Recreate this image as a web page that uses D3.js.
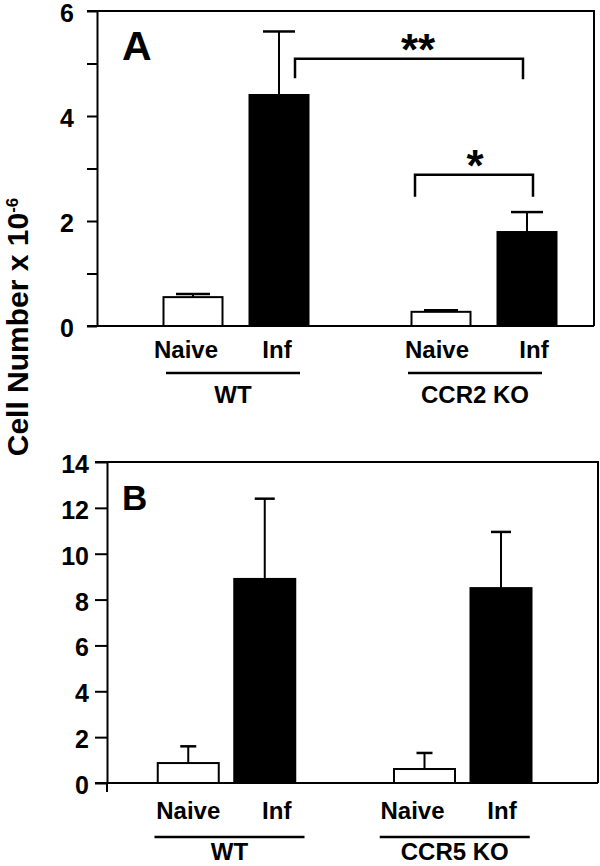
<!DOCTYPE html>
<html>
<head>
<meta charset="utf-8">
<script src="https://cdn.jsdelivr.net/npm/d3@7/dist/d3.min.js"></script>
<style>
  html, body { margin: 0; padding: 0; background: #fff; }
  svg { display: block; }
  text { font-family: "Liberation Sans", Arial, Helvetica, sans-serif; font-weight: bold; fill: #000; }
</style>
</head>
<body>
<svg id="chart" width="600" height="866"></svg>
<script>
// ---------- data ----------
const conditions = ["Naive", "Inf"];

const groupsA = ["WT", "CCR2 KO"];
const meansA = [[0.55, 4.40], [0.27, 1.79]];
const errorsA = [[0.06, 1.21], [0.03, 0.38]];
const ticksA = [0, 1, 2, 3, 4, 5, 6];
const tickLabelsA = ["0", "", "2", "", "4", "", "6"];

const groupsB = ["WT", "CCR5 KO"];
const meansB = [[0.87, 8.9], [0.61, 8.5]];
const errorsB = [[0.73, 3.5], [0.70, 2.45]];
const ticksB = [0, 2, 4, 6, 8, 10, 12, 14];
const tickLabelsB = ["0", "2", "4", "6", "8", "10", "12", "14"];

// significance brackets (panel A): from/to bars, bar level, leg ends
const bracketLabels = ["**", "*"];
const bracketFrom = [["WT", "Inf"], ["CCR2 KO", "Naive"]];
const bracketTo = [["CCR2 KO", "Inf"], ["CCR2 KO", "Inf"]];
const bracketLevel = [5.09, 2.88];
const bracketLegLeft = [4.72, 2.46];
const bracketLegRight = [4.70, 2.46];

const yTitle = "Cell Number x 10";
const yTitleSup = "-6";

// ---------- drawing ----------
const svg = d3.select("#chart");

function panel(cfg) {
  const g = svg.append("g");
  const y = d3.scaleLinear().domain(cfg.domain).range([cfg.y0, cfg.y1]);
  const gx = d3.scalePoint().domain(cfg.groups).range(cfg.groupRange);
  const ix = d3.scalePoint().domain(conditions).range([-cfg.inner, cfg.inner]);
  const cx = (grp, cond) => gx(grp) + ix(cond);

  const top = y(cfg.domain[1]), base = y(0);
  g.append("line").attr("x1", cfg.axisX - cfg.tick).attr("x2", cfg.right)
    .attr("y1", top).attr("y2", top).attr("stroke", "#000").attr("stroke-width", 2);
  g.append("line").attr("x1", cfg.right).attr("x2", cfg.right)
    .attr("y1", top - 1).attr("y2", base).attr("stroke", "#000").attr("stroke-width", 2);
  g.append("line").attr("x1", cfg.axisX - cfg.tick).attr("x2", cfg.right)
    .attr("y1", base).attr("y2", base).attr("stroke", "#000").attr("stroke-width", 2);

  const axis = d3.axisLeft(y).tickValues(cfg.ticks)
    .tickFormat((d, i) => cfg.tickLabels[i])
    .tickSize(cfg.tick).tickSizeOuter(0).tickPadding(cfg.pad);
  const ag = g.append("g").attr("transform", `translate(${cfg.axisX},0)`).call(axis);
  ag.select(".domain").attr("stroke-width", 2);
  ag.selectAll(".tick line").attr("stroke-width", 2);
  ag.selectAll(".tick text").attr("font-size", cfg.tickFont).attr("font-weight", "bold")
    .attr("font-family", '"Liberation Sans", Arial, sans-serif').attr("dy", "0.42em");
  if (cfg.extend) {
    g.append("line").attr("x1", cfg.axisX).attr("x2", cfg.axisX)
      .attr("y1", base).attr("y2", base + cfg.extend).attr("stroke", "#000").attr("stroke-width", 2);
  }

  cfg.groups.forEach((grp, gi) => {
    conditions.forEach((cond, ci) => {
      const m = cfg.means[gi][ci], e = cfg.errors[gi][ci];
      const c = cx(grp, cond);
      const filled = cond === "Inf";
      g.append("line").attr("x1", c).attr("x2", c).attr("y1", y(m)).attr("y2", y(m + e))
        .attr("stroke", "#000").attr("stroke-width", 2);
      g.append("line").attr("x1", c - cfg.cap[ci] / 2).attr("x2", c + cfg.cap[ci] / 2)
        .attr("y1", y(m + e)).attr("y2", y(m + e)).attr("stroke", "#000").attr("stroke-width", 2.5);
      g.append("rect").attr("x", c - cfg.barW / 2).attr("width", cfg.barW)
        .attr("y", y(m)).attr("height", base - y(m))
        .attr("fill", filled ? "#000" : "#fff").attr("stroke", "#000").attr("stroke-width", 2);
      g.append("text").attr("x", c + cfg.labelShift[gi][ci]).attr("y", cfg.labelY)
        .attr("text-anchor", "middle").attr("font-size", cfg.labelFont).text(cond);
    });
    const gc = gx(grp) + cfg.lineShift[gi];
    g.append("line").attr("x1", gc - cfg.lineHalf).attr("x2", gc + cfg.lineHalf)
      .attr("y1", cfg.lineY).attr("y2", cfg.lineY).attr("stroke", "#000").attr("stroke-width", 2.5);
    g.append("text").attr("x", gc).attr("y", cfg.groupY).attr("text-anchor", "middle")
      .attr("font-size", cfg.labelFont).text(grp);
  });

  g.append("text").attr("x", cfg.letterX).attr("y", cfg.letterY)
    .attr("font-size", cfg.letterFont).text(cfg.letter);

  return { g, y, cx };
}

const A = panel({
  domain: [0, 6], y0: 326, y1: 11, axisX: 97, right: 594, tick: 10, pad: 13,
  ticks: ticksA, tickLabels: tickLabelsA, tickFont: 25,
  groups: groupsA, groupRange: [236, 484], inner: 43, barW: 59,
  means: meansA, errors: errorsA, cap: [34, 32],
  labelY: 358, labelFont: 24, labelShift: [[-7, -2], [-4, 7]],
  lineY: 373, lineHalf: 67, lineShift: [-3, -9], groupY: 403,
  letter: "A", letterX: 122, letterY: 60, letterFont: 41
});

const B = panel({
  domain: [0, 14], y0: 783, y1: 462, axisX: 107, right: 598, tick: 12, pad: 6,
  ticks: ticksB, tickLabels: tickLabelsB, tickFont: 25, extend: 9,
  groups: groupsB, groupRange: [226.5, 462.75], inner: 38.25, barW: 61,
  means: meansB, errors: errorsB, cap: [16, 20],
  labelY: 819, labelFont: 24, labelShift: [[0, 12], [-12, 1]],
  lineY: 837, lineHalf: 75, lineShift: [3, -8], groupY: 860,
  letter: "B", letterX: 122, letterY: 510, letterFont: 35
});

bracketLabels.forEach((lab, i) => {
  const offL = i === 0 ? 16 : -26;
  const offR = i === 0 ? -4 : 6;
  const x1 = A.cx(bracketFrom[i][0], bracketFrom[i][1]) + offL;
  const x2 = A.cx(bracketTo[i][0], bracketTo[i][1]) + offR;
  const yl = A.y(bracketLevel[i]);
  A.g.append("path")
    .attr("d", `M${x1},${A.y(bracketLegLeft[i])}V${yl}H${x2}V${A.y(bracketLegRight[i])}`)
    .attr("fill", "none").attr("stroke", "#000").attr("stroke-width", 2.5);
  A.g.append("text").attr("x", (x1 + x2) / 2 + (i === 0 ? 9 : 1)).attr("y", yl + 6)
    .attr("text-anchor", "middle").attr("font-size", 44).text(lab);
});

const t = svg.append("text")
  .attr("transform", "translate(28,327) rotate(-90)")
  .attr("text-anchor", "middle").attr("font-size", 30);
t.append("tspan").text(yTitle);
t.append("tspan").attr("font-size", 17).attr("dy", -10).text(yTitleSup);
</script>
</body>
</html>
